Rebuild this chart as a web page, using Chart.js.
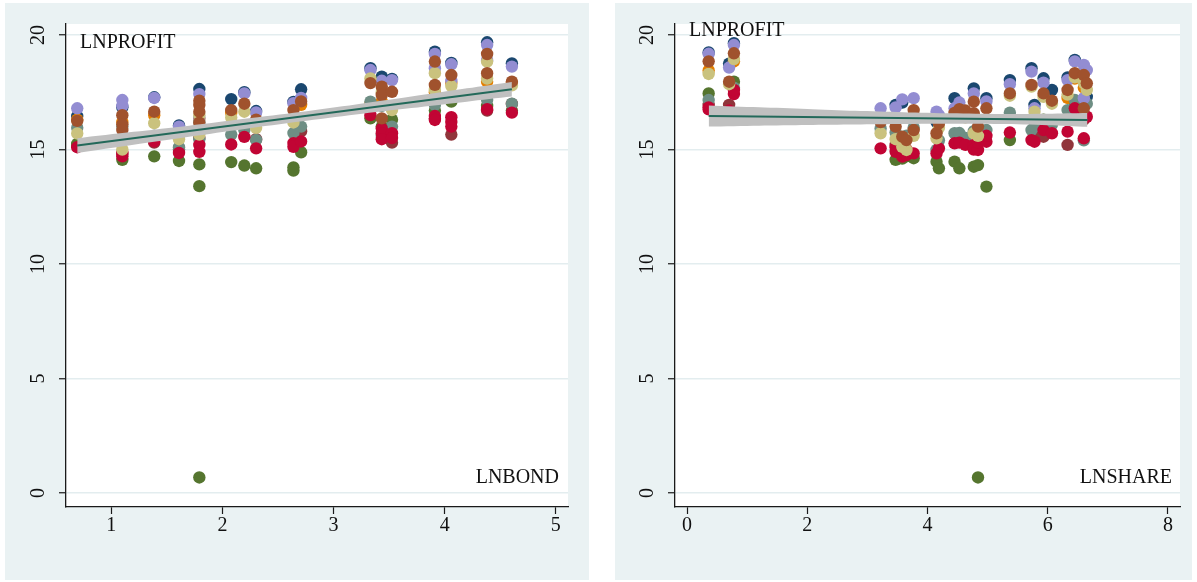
<!DOCTYPE html>
<html>
<head>
<meta charset="utf-8">
<script src="https://cdn.jsdelivr.net/npm/chart.js@4.4.1/dist/chart.umd.min.js"></script>
<style>
  html, body { margin: 0; padding: 0; background: #ffffff; }
  body { width: 1197px; height: 582px; position: relative; overflow: hidden; }
  .panel { position: absolute; background: #eaf2f3; }
  #p1 { left: 5px; top: 3px; width: 584px; height: 577px; }
  #p2 { left: 615px; top: 3px; width: 577px; height: 577px; }
  canvas { display: block; }
</style>
</head>
<body>
<div class="panel" id="p1"><canvas id="c1" width="584" height="577"></canvas></div>
<div class="panel" id="p2"><canvas id="c2" width="577" height="577"></canvas></div>
<script>
// ---- series colours (one per year group) ----
const groupColors = ['#1a476f', '#90353b', '#55752f', '#e37e00', '#6e8e84',
                     '#c10534', '#938dd2', '#cac27e', '#a0522d'];

// ---- LNPROFIT against LNBOND: [LNBOND, LNPROFIT] per group ----
const bondNavy = [[.693,16.46],[1.099,16.85],[1.386,17.28],[1.609,16.05],[1.792,17.64],[2.079,17.2],[2.197,17.5],[2.303,16.68],[2.639,17.08],[2.708,17.63],[3.332,18.55],[3.434,18.18],[3.526,18.08],[3.912,19.27],[4.06,18.78],[4.382,19.68],[4.605,18.76]];
const bondMaroon = [[.693,15.15],[1.099,14.8],[1.386,15.3],[1.609,15.0],[1.792,15.5],[2.303,15.45],[2.708,15.8],[3.526,15.3],[3.912,16.35],[4.06,15.65],[4.382,16.7],[4.605,16.99]];
const bondGreen = [[.693,15.25],[1.099,14.55],[1.386,14.7],[1.609,14.5],[1.792,14.35],[1.792,13.4],[1.792,0.68],[2.079,14.45],[2.197,14.3],[2.303,14.18],[2.639,14.22],[2.639,14.08],[2.708,14.88],[3.332,16.36],[3.434,16.0],[3.526,16.3],[3.912,16.7],[4.06,17.09],[4.382,16.9],[4.605,16.7]];
const bondOrange = [[.693,16.3],[1.099,16.2],[1.386,16.5],[1.792,16.35],[2.079,16.6],[2.708,16.95],[3.332,17.0],[3.434,17.1],[3.912,17.5],[4.06,17.9],[4.382,17.96],[4.605,17.9]];
const bondTeal = [[.693,15.95],[1.099,16.0],[1.386,15.6],[1.609,15.1],[1.792,16.2],[1.792,15.45],[2.079,15.65],[2.197,15.85],[2.303,15.42],[2.639,15.72],[2.708,16.0],[3.332,17.09],[3.434,16.9],[3.434,15.6],[3.526,16.0],[3.912,16.94],[4.06,17.3],[4.382,17.16],[4.605,17.0]];
const bondCranberry = [[.693,15.1],[1.099,14.7],[1.099,14.85],[1.386,15.35],[1.609,14.85],[1.792,15.2],[1.792,14.9],[2.079,15.22],[2.197,15.55],[2.303,15.05],[2.639,15.28],[2.639,15.12],[2.708,15.35],[3.332,16.5],[3.434,15.92],[3.434,15.71],[3.434,15.45],[3.526,15.71],[3.526,15.5],[3.912,16.46],[3.912,16.29],[4.06,16.41],[4.06,16.2],[4.06,16.0],[4.382,16.76],[4.605,16.61]];
const bondLavender = [[.693,16.8],[1.099,17.16],[1.099,16.9],[1.386,17.25],[1.609,16.0],[1.792,17.42],[1.792,16.4],[2.197,17.45],[2.303,16.62],[2.639,17.02],[2.708,17.25],[3.332,18.47],[3.434,18.0],[3.526,18.03],[3.912,19.17],[3.912,18.55],[4.06,18.72],[4.06,18.0],[4.382,19.56],[4.382,18.9],[4.605,18.62]];
const bondKhaki = [[.693,15.7],[1.099,15.0],[1.099,15.35],[1.386,16.15],[1.609,15.45],[1.792,16.5],[1.792,15.65],[2.079,16.4],[2.197,16.65],[2.303,15.95],[2.639,16.18],[3.332,18.1],[3.434,17.5],[3.526,16.72],[3.912,18.33],[3.912,17.6],[4.06,17.77],[4.382,18.84],[4.382,18.1],[4.605,17.8]];
const bondSienna = [[.693,16.25],[1.099,16.5],[1.099,16.1],[1.099,15.85],[1.386,16.65],[1.792,17.13],[1.792,16.94],[1.792,16.65],[1.792,16.17],[2.079,16.72],[2.197,17.0],[2.303,16.3],[2.639,16.72],[2.708,17.1],[3.332,17.9],[3.434,17.74],[3.434,17.38],[3.434,16.36],[3.526,17.52],[3.912,18.84],[3.912,17.82],[4.06,18.25],[4.382,19.17],[4.382,18.33],[4.605,17.96]];

// fitted line and 95% band, LNBOND panel
const bondFitX = [0.693, 4.605];
const bondFitY = [15.17, 17.63];
const bondBandX  = [0.693, 1.2, 1.7, 2.2, 2.7, 3.2, 3.7, 4.2, 4.605];
const bondBandHi = [15.49, 15.77, 16.04, 16.34, 16.64, 16.97, 17.31, 17.67, 17.95];
const bondBandLo = [14.85, 15.21, 15.56, 15.90, 16.22, 16.53, 16.81, 17.09, 17.31];

// ---- LNPROFIT against LNSHARE: [LNSHARE, LNPROFIT] per group ----
const shareNavy = [[0.36,19.24],[0.70,18.75],[0.78,19.64],[3.58,17.05],[3.47,16.95],[4.15,16.2],[4.45,17.24],[4.77,17.67],[4.98,17.24],[5.37,18.03],[5.73,18.55],[5.78,16.95],[5.93,18.11],[6.07,17.6],[6.33,18.15],[6.45,18.91],[6.65,17.3]];
const shareMaroon = [[0.36,16.95],[0.70,16.95],[3.47,15.2],[4.63,15.3],[4.9,15.6],[5.78,15.6],[5.93,15.56],[6.33,15.2],[6.6,16.3]];
const shareGreen = [[0.36,17.45],[0.78,17.96],[3.47,14.55],[3.58,14.6],[3.77,14.62],[3.65,14.7],[4.15,14.47],[4.19,14.18],[4.45,14.47],[4.53,14.18],[4.77,14.25],[4.84,14.32],[4.84,0.68],[4.98,13.38],[5.37,15.41],[5.93,16.3],[6.45,17.0]];
const shareOrange = [[0.36,18.45],[0.78,18.85],[3.77,16.5],[4.63,16.5],[6.33,17.25],[6.45,18.1],[6.6,17.7]];
const shareTeal = [[0.36,17.16],[0.78,17.7],[3.22,15.92],[3.47,15.75],[3.58,15.3],[3.65,15.6],[3.77,15.95],[4.15,14.98],[4.19,15.4],[4.45,15.71],[4.53,15.72],[4.63,15.5],[4.77,15.8],[4.98,15.85],[5.37,16.61],[5.73,15.85],[5.78,16.0],[5.93,16.0],[6.07,16.1],[6.33,16.72],[6.45,17.16],[6.6,15.4],[6.65,17.0]];
const shareCranberry = [[0.36,16.84],[0.36,16.75],[0.70,16.7],[0.78,17.42],[0.78,17.6],[3.22,15.05],[3.47,15.1],[3.47,14.9],[3.58,14.69],[3.65,14.76],[3.65,15.0],[3.77,14.83],[4.15,14.83],[4.19,15.05],[4.45,15.27],[4.53,15.3],[4.63,15.2],[4.77,15.2],[4.77,15.0],[4.84,14.98],[4.84,15.3],[4.98,15.34],[4.98,15.6],[5.37,15.74],[5.73,15.41],[5.78,15.34],[5.93,15.85],[6.07,15.71],[6.33,15.78],[6.45,16.8],[6.6,16.5],[6.6,15.49],[6.65,16.43]];
const shareLavender = [[0.36,19.18],[0.70,18.58],[0.78,19.56],[3.22,16.8],[3.47,16.84],[3.58,17.19],[3.77,17.24],[4.15,16.65],[4.19,16.5],[4.45,16.8],[4.53,17.05],[4.77,17.45],[4.98,17.1],[5.37,17.85],[5.73,18.4],[5.78,16.8],[5.93,17.92],[6.33,18.03],[6.45,18.85],[6.6,18.69],[6.6,17.24],[6.65,18.47]];
const shareKhaki = [[0.36,18.3],[0.70,17.85],[0.78,18.95],[3.22,15.71],[3.47,15.45],[3.58,15.12],[3.65,14.98],[3.77,15.6],[4.15,15.49],[4.19,15.95],[4.63,16.4],[4.77,15.71],[4.84,15.6],[5.37,17.35],[5.73,17.75],[5.78,16.65],[5.93,17.3],[6.07,17.0],[6.33,17.4],[6.45,18.15],[6.6,17.9],[6.65,17.6]];
const shareSienna = [[0.36,18.85],[0.70,17.96],[0.78,19.2],[3.22,16.2],[3.47,16.0],[3.58,15.56],[3.65,15.41],[3.77,16.72],[3.77,15.85],[4.15,15.71],[4.19,16.14],[4.45,16.6],[4.53,16.76],[4.63,16.7],[4.77,17.09],[4.77,16.58],[4.84,16.0],[4.98,16.8],[5.37,17.45],[5.73,17.82],[5.93,17.45],[6.07,17.13],[6.33,17.6],[6.45,18.33],[6.6,18.25],[6.6,16.8],[6.65,17.89]];

// fitted line and 95% band, LNSHARE panel
const shareFitX = [0.36, 6.66];
const shareFitY = [16.46, 16.29];
const shareBandX  = [0.36, 1.2, 2.0, 2.8, 3.6, 4.4, 5.2, 6.0, 6.66];
const shareBandHi = [16.92, 16.84, 16.77, 16.69, 16.63, 16.58, 16.55, 16.56, 16.59];
const shareBandLo = [16.00, 16.04, 16.07, 16.09, 16.11, 16.12, 16.11, 16.06, 15.99];

// ---- axis ticks ----
const yTicks = [0, 5, 10, 15, 20];
const bondTicks = [1, 2, 3, 4, 5];
const shareTicks = [0, 2, 4, 6, 8];

const SERIF = '"Liberation Serif", "Times New Roman", serif';
const INK = '#1a1a1a';

const toPts = arr => arr.map(p => ({ x: p[0], y: p[1] }));
const zipPts = (xs, ys) => xs.map((x, i) => ({ x, y: ys[i] }));

function buildDatasets(groups, fitX, fitY, bandX, bandHi, bandLo) {
  const ds = [];
  ds.push({
    type: 'line', data: zipPts(fitX, fitY), borderColor: '#23695a', borderWidth: 2,
    pointRadius: 0, fill: false, order: 0
  });
  ds.push({
    type: 'line', data: zipPts(bandX, bandHi), borderWidth: 0, borderColor: 'rgba(0,0,0,0)',
    backgroundColor: 'rgb(192,192,192)', pointRadius: 0, fill: '+1', tension: 0.3, order: 1
  });
  ds.push({
    type: 'line', data: zipPts(bandX, bandLo), borderWidth: 0, borderColor: 'rgba(0,0,0,0)',
    pointRadius: 0, fill: false, tension: 0.3, order: 2
  });
  groups.forEach((g, i) => {
    ds.push({
      type: 'scatter', data: toPts(g), backgroundColor: groupColors[i],
      borderColor: groupColors[i], pointBorderWidth: 0, pointRadius: 6.2,
      pointHoverRadius: 6.2, order: 20 - i
    });
  });
  return ds;
}

const panelBackground = {
  id: 'panelBackground',
  beforeDraw(chart) {
    const { ctx, chartArea: a } = chart;
    ctx.save();
    ctx.fillStyle = '#ffffff';
    ctx.fillRect(a.left, a.top, a.right - a.left, a.bottom - a.top);
    ctx.restore();
  }
};

const titleText = {
  id: 'titleText',
  afterDraw(chart, args, opts) {
    const { ctx, chartArea: a } = chart;
    ctx.save();
    ctx.fillStyle = '#111111';
    ctx.font = '20px ' + SERIF;
    ctx.textBaseline = 'alphabetic';
    ctx.textAlign = 'left';
    ctx.fillText(opts.yTitle, a.left + opts.yTitleDx, a.top + opts.yTitleDy);
    ctx.textAlign = 'right';
    ctx.fillText(opts.xTitle, a.right - opts.xTitleDx, a.bottom - 24);
    ctx.restore();
  }
};

function makeChart(id, groups, fit, xRange, xTicks, padRight, axisWidth, titles) {
  return new Chart(document.getElementById(id), {
    data: { datasets: buildDatasets(groups, fit[0], fit[1], fit[2], fit[3], fit[4]) },
    options: {
      responsive: false, animation: false, events: [],
      layout: { padding: { top: 21, right: padRight, bottom: 0, left: 0 } },
      plugins: { legend: { display: false }, tooltip: { enabled: false }, titleText: titles },
      scales: {
        x: {
          type: 'linear', min: xRange[0], max: xRange[1],
          afterFit(s) { s.height = 73; },
          afterBuildTicks(s) { s.ticks = xTicks.map(v => ({ value: v })); },
          grid: { drawOnChartArea: false, tickLength: 7, tickColor: INK, tickWidth: 1.2 },
          border: { display: true, color: INK, width: 1.3 },
          ticks: { padding: 2, color: '#111', maxRotation: 0, font: { family: SERIF, size: 20, lineHeight: 1 } }
        },
        y: {
          type: 'linear', min: -0.61, max: 20.48,
          afterFit(s) { s.width = axisWidth; },
          afterBuildTicks(s) { s.ticks = yTicks.map(v => ({ value: v })); },
          grid: { color: '#e3edef', lineWidth: 1.5, tickLength: 7, tickColor: INK, tickWidth: 1.2 },
          border: { display: true, color: INK, width: 1.3 },
          ticks: { padding: 10, color: '#111', minRotation: 90, maxRotation: 90, crossAlign: 'center',
                   font: { family: SERIF, size: 20, lineHeight: 1 } }
        }
      }
    },
    plugins: [panelBackground, titleText]
  });
}

makeChart('c1',
  [bondNavy, bondMaroon, bondGreen, bondOrange, bondTeal, bondCranberry, bondLavender, bondKhaki, bondSienna],
  [bondFitX, bondFitY, bondBandX, bondBandHi, bondBandLo],
  [0.592, 5.11], bondTicks, 21, 61,
  { yTitle: 'LNPROFIT', xTitle: 'LNBOND', yTitleDx: 14, yTitleDy: 24, xTitleDx: 9 });

makeChart('c2',
  [shareNavy, shareMaroon, shareGreen, shareOrange, shareTeal, shareCranberry, shareLavender, shareKhaki, shareSienna],
  [shareFitX, shareFitY, shareBandX, shareBandHi, shareBandLo],
  [-0.2, 8.2], shareTicks, 12, 60,
  { yTitle: 'LNPROFIT', xTitle: 'LNSHARE', yTitleDx: 14, yTitleDy: 12, xTitleDx: 8 });
</script>
</body>
</html>
